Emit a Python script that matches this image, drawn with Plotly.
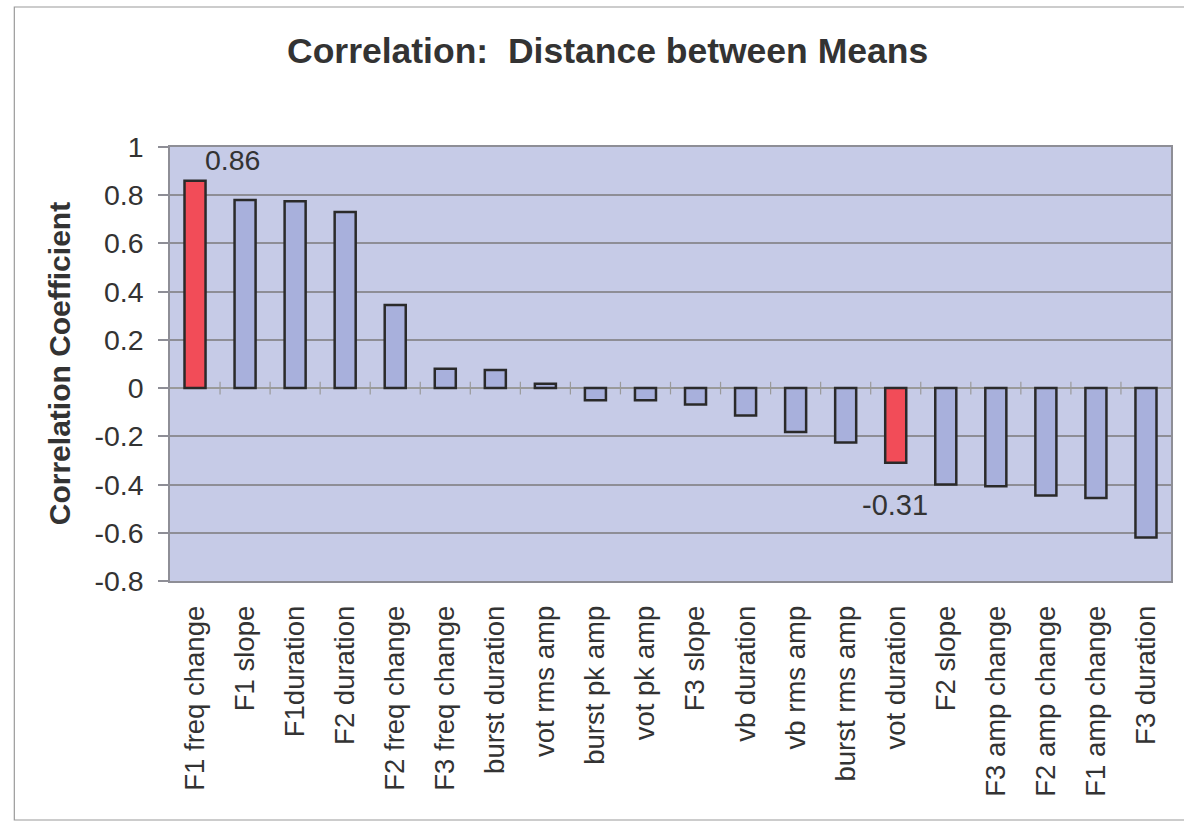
import plotly.graph_objects as go

categories = ["F1 freq change", "F1 slope", "F1duration", "F2 duration", "F2 freq change",
              "F3 freq change", "burst duration", "vot rms amp", "burst pk amp", "vot pk amp",
              "F3 slope", "vb duration", "vb rms amp", "burst rms amp", "vot duration",
              "F2 slope", "F3 amp change", "F2 amp change", "F1 amp change", "F3 duration"]
values = [0.86, 0.78, 0.775, 0.73, 0.345, 0.08, 0.075, 0.018, -0.05, -0.05,
          -0.068, -0.114, -0.182, -0.226, -0.31, -0.40, -0.407, -0.445, -0.456, -0.62]
highlight = ["F1 freq change", "vot duration"]
y_ticks = [1, 0.8, 0.6, 0.4, 0.2, 0, -0.2, -0.4, -0.6, -0.8]
y_ticktext = ["1", "0.8", "0.6", "0.4", "0.2", "0", "-0.2", "-0.4", "-0.6", "-0.8"]

BLUE = "#a8b0dc"
RED = "#f24c58"
colors = [RED if c in highlight else BLUE for c in categories]
xpos = list(range(len(categories)))
boundaries = [i - 0.5 for i in range(1, len(categories))]

fig = go.Figure()
# small category tick marks on the zero line
fig.add_trace(go.Scatter(
    x=boundaries, y=[0] * len(boundaries), mode="markers",
    marker=dict(symbol="line-ns", size=9, line=dict(color="#9a9a9a", width=1.2)),
    hoverinfo="skip", showlegend=False,
))
fig.add_trace(go.Bar(
    x=xpos, y=values, width=0.42,
    marker=dict(color=colors, line=dict(color="#2a2a2a", width=2.5)),
    hoverinfo="x+y", showlegend=False,
))

FONT = "Liberation Sans, Arial, sans-serif"
TXT = "#333333"
GRID = "#8e8e96"

fig.update_layout(
    width=1184, height=823,
    margin=dict(l=170, r=11, t=147, b=242),
    paper_bgcolor="white",
    plot_bgcolor="#c6cbe7",
    font=dict(family=FONT, color=TXT),
)
fig.update_xaxes(
    range=[-0.5, len(categories) - 0.5],
    tickmode="array", tickvals=xpos, ticktext=categories,
    tickangle=-90, tickfont=dict(size=27.5, color=TXT, family=FONT),
    ticks="", ticklabelstandoff=12,
    showgrid=False, zeroline=False,
    showline=True, linecolor=GRID, linewidth=1.5, mirror=True,
)
fig.update_yaxes(
    range=[-0.8, 1.0],
    tickmode="array", tickvals=y_ticks, ticktext=y_ticktext,
    tickfont=dict(size=28.5, color=TXT, family=FONT),
    ticks="outside", ticklen=10, tickcolor=GRID, tickwidth=1.5,
    ticklabelstandoff=9,
    showgrid=True, gridcolor=GRID, gridwidth=1.5,
    zeroline=True, zerolinecolor="#9a9a9a", zerolinewidth=1.5,
    showline=True, linecolor=GRID, linewidth=1.5, mirror=True,
)

# value labels
fig.add_annotation(x=0.74, y=0.946, xref="x", yref="y", text="0.86", showarrow=False,
                   font=dict(size=28.5, color=TXT, family=FONT))
fig.add_annotation(x=13.98, y=-0.485, xref="x", yref="y", text="-0.31", showarrow=False,
                   font=dict(size=29, color=TXT, family=FONT))

# chart title
fig.add_annotation(x=(608 - 170) / 1003, y=(581 - 51) / 434, xref="paper", yref="paper",
                   text="<b>Correlation:&nbsp; Distance between Means</b>", showarrow=False,
                   xanchor="center", yanchor="middle",
                   font=dict(size=35.5, color=TXT, family=FONT))
# y axis title
fig.add_annotation(x=(59 - 170) / 1003, y=0.5, xref="paper", yref="paper",
                   text="<b>Correlation Coefficient</b>", showarrow=False, textangle=-90,
                   xanchor="center", yanchor="middle",
                   font=dict(size=30, color=TXT, family=FONT))

# outer chart frame
fig.add_shape(type="rect", xref="paper", yref="paper",
              x0=(14 - 170) / 1003, x1=1.1, y0=(581 - 820) / 434, y1=(581 - 7) / 434,
              line=dict(color="#9a9a9a", width=1.2), fillcolor="rgba(0,0,0,0)", layer="below")

fig.write_html("out.html")
